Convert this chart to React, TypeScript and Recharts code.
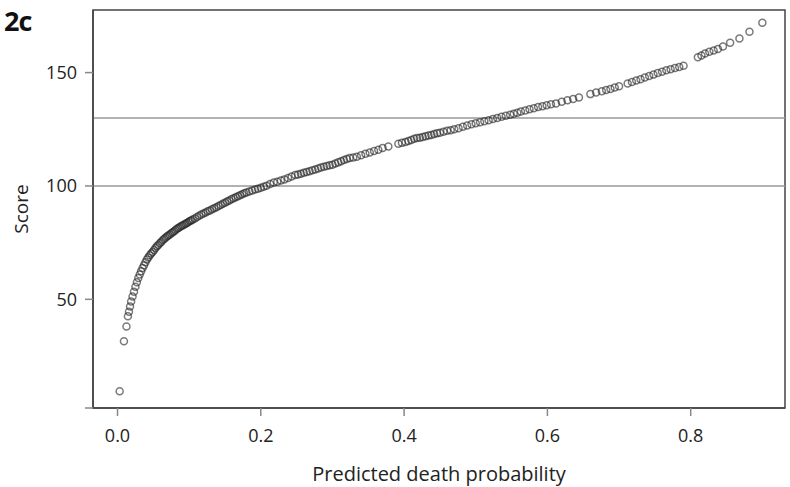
import {
  ScatterChart, Scatter, XAxis, YAxis, ReferenceLine, ReferenceArea, Label,
} from 'recharts'

// predicted death probability vs score
const probability = [
  0.003, 0.009, 0.0125, 0.0145, 0.016, 0.0175, 0.019, 0.021, 0.023, 0.025,
  0.027, 0.029, 0.031, 0.033, 0.035, 0.037, 0.039, 0.041, 0.043, 0.045,
  0.047, 0.049, 0.051, 0.053, 0.055, 0.057, 0.059, 0.061, 0.063, 0.065,
  0.067, 0.069, 0.071, 0.073, 0.075, 0.077, 0.079, 0.081, 0.083, 0.085,
  0.087, 0.089, 0.091, 0.093, 0.095, 0.097, 0.099, 0.101, 0.103, 0.105,
  0.108, 0.111, 0.114, 0.117, 0.12, 0.123, 0.126, 0.129, 0.132, 0.135,
  0.138, 0.141, 0.144, 0.147, 0.15, 0.153, 0.156, 0.159, 0.162, 0.165,
  0.168, 0.171, 0.174, 0.177, 0.18, 0.184, 0.188, 0.192, 0.196, 0.2,
  0.204, 0.208, 0.213, 0.218, 0.223, 0.228, 0.233, 0.238, 0.243, 0.248,
  0.252, 0.256, 0.26, 0.264, 0.268, 0.272, 0.276, 0.28, 0.284, 0.288,
  0.292, 0.296, 0.3, 0.304, 0.308, 0.312, 0.316, 0.32, 0.324, 0.329,
  0.334, 0.34, 0.346, 0.352, 0.358, 0.364, 0.37, 0.378, 0.392, 0.397,
  0.402, 0.406, 0.41, 0.414, 0.418, 0.422, 0.426, 0.43, 0.434, 0.438,
  0.442, 0.446, 0.45, 0.455, 0.46, 0.465, 0.47, 0.476, 0.482, 0.488,
  0.494, 0.5, 0.506, 0.512, 0.518, 0.524, 0.53, 0.536, 0.542, 0.548,
  0.553, 0.558, 0.563, 0.569, 0.575, 0.581, 0.587, 0.593, 0.599, 0.605,
  0.612, 0.62, 0.628, 0.636, 0.644, 0.66, 0.668, 0.676, 0.682, 0.688,
  0.694, 0.7, 0.712, 0.718, 0.724, 0.73, 0.736, 0.742, 0.748, 0.754,
  0.76, 0.766, 0.772, 0.778, 0.784, 0.79, 0.81, 0.815, 0.82, 0.826,
  0.832, 0.838, 0.845, 0.855, 0.868, 0.882, 0.9,
]

const score = [
  9.5, 31.5, 38, 42.5, 44.5, 46.8, 49, 51.2, 53.3, 55.5,
  57.5, 59.4, 61, 62.4, 63.8, 65, 66.4, 67.6, 68.5, 69.4,
  70.2, 70.9, 71.8, 72.6, 73.4, 74, 74.7, 75.3, 76, 76.6,
  77.2, 77.7, 78.1, 78.6, 79.1, 79.6, 80, 80.6, 81.1, 81.5,
  81.9, 82.3, 82.6, 83, 83.3, 83.7, 84.1, 84.5, 84.8, 85.2,
  85.7, 86.3, 86.9, 87.4, 87.9, 88.3, 88.8, 89.2, 89.7, 90.2,
  90.6, 91.2, 91.6, 92.1, 92.6, 93.1, 93.6, 94.1, 94.6, 95,
  95.5, 95.9, 96.3, 96.8, 97.1, 97.6, 98, 98.4, 98.8, 99.2,
  99.7, 100.1, 100.9, 101.5, 101.9, 102.4, 102.9, 103.5, 104.2, 104.8,
  105.1, 105.4, 105.8, 106.2, 106.5, 106.9, 107.3, 107.7, 108.1, 108.5,
  108.8, 109.1, 109.4, 109.9, 110.4, 110.9, 111.4, 111.9, 112.3, 112.6,
  112.9, 113.5, 114.2, 114.8, 115.4, 116, 116.7, 117.4, 118.6, 119,
  119.4, 119.8, 120.3, 120.8, 121.1, 121.3, 121.6, 121.9, 122.2, 122.5,
  122.9, 123.2, 123.5, 123.9, 124.3, 124.6, 125, 125.5, 126.1, 126.7,
  127.2, 127.7, 128.1, 128.5, 129, 129.5, 130, 130.5, 131, 131.4,
  131.8, 132.3, 132.8, 133.3, 133.8, 134.3, 134.8, 135.2, 135.6, 136,
  136.4, 137.1, 137.8, 138.4, 139, 140.5, 141.2, 141.8, 142.3, 142.8,
  143.4, 144, 145.2, 145.8, 146.5, 147.1, 147.8, 148.5, 149.1, 149.8,
  150.4, 151, 151.5, 152, 152.5, 153, 156.8, 157.5, 158.4, 159.2,
  159.7, 160.4, 161.5, 163.2, 165, 168, 172,
]

const xTicks = [0, 0.2, 0.4, 0.6, 0.8]
const yTicks = [2.07, 50, 100, 150]
const cutoffs = [100, 130]
const xDomain = [-0.0342, 0.9316]
const yDomain = [2.07, 177.6]

const FONT = '"Open Sans", sans-serif'

const points = probability.map((p, i) => ({ p, s: score[i] }))

function Ring(props: any) {
  return (
    <circle
      cx={props.cx}
      cy={props.cy}
      r={3.5}
      fill="none"
      stroke="#222"
      strokeOpacity={0.6}
      strokeWidth={1.5}
    />
  )
}

export default function App() {
  return (
    <div style={{ position: 'absolute', left: 0, top: 0, width: 790, height: 487, background: '#fff' }}>
      <svg width={60} height={42} style={{ position: 'absolute', left: 0, top: 0 }}>
        <text
          x={4}
          y={31}
          style={{ fontFamily: FONT, fontWeight: 700, fontSize: 27, fill: '#111', letterSpacing: -1 }}
        >
          2c
        </text>
      </svg>
      <ScatterChart width={790} height={487} margin={{ top: 10, right: 5, bottom: 0, left: 0 }}>
        <XAxis
          dataKey="p"
          type="number"
          domain={xDomain}
          ticks={xTicks}
          allowDataOverflow
          tickFormatter={(v: number) => v.toFixed(1)}
          height={79}
          tickSize={8}
          tickMargin={13}
          axisLine={{ stroke: '#444', strokeWidth: 1.5 }}
          tickLine={{ stroke: '#888', strokeWidth: 1.5 }}
          tick={{ fontSize: 18, fill: '#222', fontFamily: FONT }}
        >
          <Label
            value="Predicted death probability"
            position="insideBottom"
            offset={6}
            style={{ fontSize: 20, fill: '#222', fontFamily: FONT }}
          />
        </XAxis>
        <YAxis
          dataKey="s"
          type="number"
          domain={yDomain}
          ticks={yTicks}
          allowDataOverflow
          tickFormatter={(v: number) => (v < 10 ? '' : String(v))}
          width={93}
          tickSize={8}
          tickMargin={8}
          axisLine={{ stroke: '#444', strokeWidth: 1.5 }}
          tickLine={{ stroke: '#888', strokeWidth: 1.5 }}
          tick={{ fontSize: 18, fill: '#222', fontFamily: FONT }}
        >
          <Label
            content={({ viewBox }: any) => {
              const cy = viewBox.y + viewBox.height / 2
              return (
                <text
                  x={21}
                  y={cy}
                  transform={`rotate(-90, 21, ${cy})`}
                  textAnchor="middle"
                  dominantBaseline="central"
                  style={{ fontSize: 19, fill: '#222', fontFamily: FONT }}
                >
                  Score
                </text>
              )
            }}
          />
        </YAxis>
        <ReferenceArea
          x1={xDomain[0]}
          x2={xDomain[1]}
          y1={yDomain[0]}
          y2={yDomain[1]}
          fill="none"
          stroke="#444"
          strokeWidth={1.5}
        />
        {cutoffs.map(c => (
          <ReferenceLine key={c} y={c} stroke="#999" strokeWidth={1.5} />
        ))}
        <Scatter data={points} shape={Ring} isAnimationActive={false} />
      </ScatterChart>
    </div>
  )
}
